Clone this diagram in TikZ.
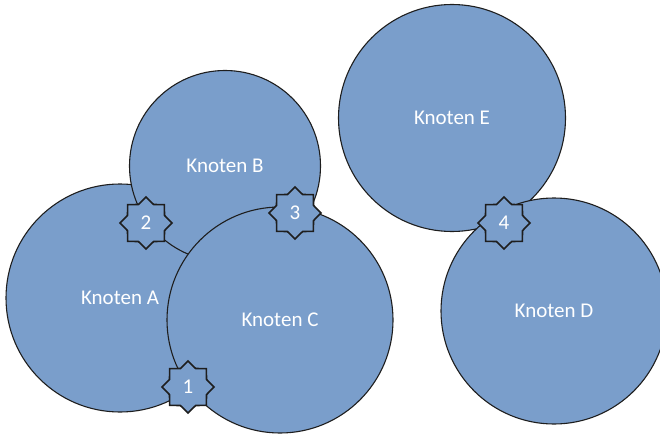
\documentclass[tikz,border=0pt]{standalone}
\usepackage{fontspec}
\setmainfont{Carlito}
\usetikzlibrary{shapes.geometric}
\definecolor{knotblau}{RGB}{122,158,203}
\definecolor{rand}{RGB}{30,30,30}

\begin{document}
\begin{tikzpicture}[
x=1pt, y=-1pt,
knoten/.style={
	circle, draw=rand, line width=1.1pt,
	fill=knotblau, inner sep=0pt,
	text=white, font=\fontsize{21}{24}\selectfont
},
treff/.style={
	star, star points=8, star point ratio=1.3,
	draw=rand, line width=1.6pt, fill=knotblau,
	minimum size=52pt, inner sep=0pt,
	text=white, font=\fontsize{21}{24}\selectfont
}
]
\useasboundingbox (0,0) rectangle (660,433);
\node[knoten, minimum size=228pt] (A) at (120,298) {Knoten A};
\node[knoten, minimum size=191pt] (B) at (225,166) {Knoten B};
\node[knoten, minimum size=226pt] (C) at (280,320) {Knoten C};
\node[knoten, minimum size=227pt] (E) at (452,118) {Knoten E};
\node[knoten, minimum size=226pt] (D) at (554,311) {Knoten D};
% Schnittpunkte
\node[treff] (1) at (188,387) {1};
\node[treff] (2) at (146,223) {2};
\node[treff] (3) at (295,213) {3};
\node[treff] (4) at (504,223) {4};
\end{tikzpicture}
\end{document}
